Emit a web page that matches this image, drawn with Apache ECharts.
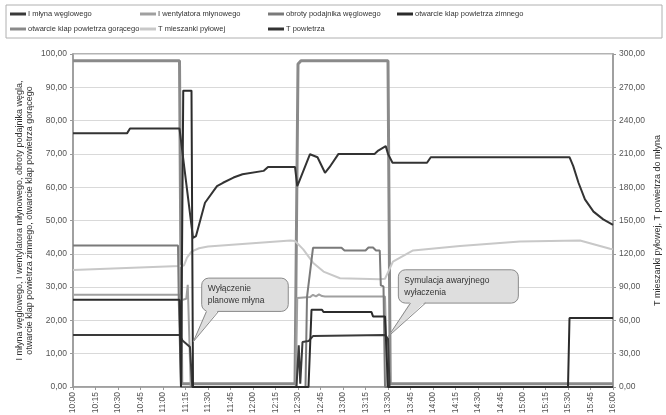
<!DOCTYPE html>
<html><head><meta charset="utf-8">
<script src="https://cdn.jsdelivr.net/npm/echarts@6/dist/echarts.min.js"></script>
<style>html,body{margin:0;padding:0;background:#fff}#c{width:666px;height:415px}</style>
</head><body><div id="c"></div>
<script>
// time in minutes after 10:00
const xTicksStart = 0, xTicksEnd = 360, xStep = 15;

const mlynT = [0, 71, 73, 78, 79.5, 149, 150.5, 151.5, 153, 157, 160, 208, 210, 211, 360];
const mlynV = [15.6, 15.6, 14.0, 12.0, 0, 0, 12.5, 1.0, 13.5, 13.8, 15.3, 15.6, 14.5, 0, 0];

const wentT = [0, 71, 72, 75.5, 76.5, 77.5, 78.5, 148.5, 149.5, 158, 160, 162, 164, 166, 168, 208, 209.5, 360];
const wentV = [27.7, 27.7, 26.0, 26.5, 30.7, 30.5, 0, 0, 26.7, 27.0, 27.7, 27.2, 27.8, 27.3, 27.2, 27.2, 0, 0];

const obrT = [0, 70, 70.5, 72, 155, 156, 160, 179, 181, 195, 197, 200, 202, 204.5, 205.2, 207, 208, 360];
const obrV = [42.5, 42.5, 26.5, 0, 0, 27, 41.8, 41.8, 41.0, 41.0, 41.9, 41.9, 41.0, 41.0, 30.5, 30.2, 0, 0];

const zimT = [0, 71, 72, 73.5, 79, 80, 157, 159, 166, 167, 199, 200, 208, 210, 330, 331, 360];
const zimV = [26.2, 26.2, 0, 89, 89, 0, 0, 23.2, 23.2, 22.5, 22.5, 21.2, 21.2, 0, 0, 20.7, 20.7];

const gorT = [0, 71, 72.5, 148, 150, 152, 210, 211.5, 360];
const gorV = [98, 98, 1, 1, 97, 98, 98, 1, 1];

const tmT = [0, 71, 74, 76, 79, 84, 90, 145, 148, 153.5, 160, 167, 178, 204.7, 208, 213.3, 226.7, 258, 298, 338, 358, 360];
const tmV = [105.5, 109, 109.5, 116.6, 122, 125, 126.5, 132, 131.5, 124, 112, 104, 98, 97, 97.5, 113, 123, 127, 131, 132, 124.5, 124];

const tpT = [0, 36, 38, 71, 80, 82, 88, 96, 100, 107, 113, 114, 127, 130, 148, 149.5, 151, 158, 163, 168, 171, 177, 201, 203.5, 208.5, 210, 213, 236, 238.5, 331, 333.5, 337, 341.3, 347, 353.5, 360];
const tpV = [228.5, 228.5, 232.8, 232.8, 134.4, 136, 166, 181, 184, 188.7, 191.7, 192.5, 194.7, 198.3, 198.3, 181, 186, 209.7, 207, 193, 198, 210, 210, 213, 217, 210, 202, 202, 207, 207, 199, 184, 169, 158, 151, 146];

const names = ['I młyna węglowego', 'I wentylatora młynowego', 'obroty podajnika węglowego',
  'otwarcie klap powietrza zimnego', 'otwarcie klap powietrza gorącego', 'T mieszanki pyłowej', 'T powietrza'];
const leftAxisName = 'I młyna węglowego, I wentylatora młynowego, obroty podajnika węgla,\notwarcie klap powietrza zimnego, otwarcie klap powietrza gorącego';
const rightAxisName = 'T mieszanki pyłowej, T powietrza do młyna';
const callout1 = ['Wyłączenie', 'planowe młyna'];
const callout2 = ['Symulacja awaryjnego', 'wyłaczenia'];

const FONT = 'Liberation Sans, Arial, sans-serif';
const pairs = (t, v) => t.map((x, i) => [x, v[i]]);
const fmt = v => v.toFixed(2).replace('.', ',');
const tfmt = m => { const h = 10 + Math.floor(m / 60), mm = m % 60; return h + ':' + (mm < 10 ? '0' : '') + mm; };

const colors = ['#3a3a3a', '#a0a0a0', '#7a7a7a', '#2b2b2b', '#8a8a8a', '#c8c8c8', '#333333'];
const widths = [2, 2, 2, 2, 3, 2, 2];
const dataSets = [pairs(mlynT, mlynV), pairs(wentT, wentV), pairs(obrT, obrV), pairs(zimT, zimV), pairs(gorT, gorV), pairs(tmT, tmV), pairs(tpT, tpV)];
const yIdx = [0, 0, 0, 0, 0, 1, 1];
const drawOrder = [4, 5, 1, 2, 0, 3, 6];

const series = drawOrder.map(i => ({
  name: names[i], type: 'line', yAxisIndex: yIdx[i], data: dataSets[i],
  showSymbol: false, symbol: 'none', animation: false,
  lineStyle: { color: colors[i], width: widths[i] }, itemStyle: { color: colors[i] }, z: 2
}));

const legendPos = [[10, 10], [140, 10], [268, 10], [397, 10], [10, 25], [140, 25], [268, 25]];
const legends = names.map((n, i) => ({
  data: [n], left: legendPos[i][0], top: legendPos[i][1], icon: 'rect', itemWidth: 16, itemHeight: 3,
  itemGap: 0, padding: 0, textStyle: { fontSize: 7.5, color: '#333', fontFamily: FONT, padding: [0, 0, 0, -3] }
}));

const chart = echarts.init(document.getElementById('c'), null, { renderer: 'canvas' });
chart.setOption({
  animation: false,
  backgroundColor: '#fff',
  legend: legends,
  grid: { left: 73, right: 53, top: 54, bottom: 28, containLabel: false, outerBoundsMode: 'none',
    show: true, borderColor: '#9a9a9a', borderWidth: 1.5 },
  xAxis: {
    type: 'value', min: xTicksStart, max: xTicksEnd, interval: xStep,
    axisLine: { show: true, lineStyle: { color: '#9a9a9a', width: 1.5 } },
    axisTick: { show: true, length: 3, lineStyle: { color: '#9a9a9a' } },
    splitLine: { show: false },
    axisLabel: { rotate: 90, fontSize: 8.5, color: '#555', fontFamily: FONT, margin: 5, formatter: tfmt }
  },
  yAxis: [{
    type: 'value', min: 0, max: 100, interval: 10, position: 'left',
    name: leftAxisName, nameLocation: 'middle', nameGap: 38, nameMoveOverlap: false,
    nameTextStyle: { fontSize: 9, color: '#333', fontFamily: FONT, lineHeight: 10 },
    axisLine: { show: true, lineStyle: { color: '#9a9a9a', width: 1.5 } },
    axisTick: { show: true, length: 3, lineStyle: { color: '#9a9a9a' } },
    splitLine: { show: true, lineStyle: { color: '#d9d9d9', width: 1 } },
    axisLabel: { fontSize: 8.5, color: '#555', fontFamily: FONT, margin: 6, formatter: fmt }
  }, {
    type: 'value', min: 0, max: 300, interval: 30, position: 'right',
    name: rightAxisName, nameLocation: 'middle', nameGap: 40, nameRotate: 90, nameMoveOverlap: false,
    nameTextStyle: { fontSize: 9, color: '#333', fontFamily: FONT },
    axisLine: { show: true, lineStyle: { color: '#9a9a9a', width: 1.5 } },
    axisTick: { show: true, length: 3, lineStyle: { color: '#9a9a9a' } },
    splitLine: { show: false },
    axisLabel: { fontSize: 8.5, color: '#555', fontFamily: FONT, margin: 6, formatter: fmt }
  }],
  series: series
});

function px(t, v) { return chart.convertToPixel({ xAxisIndex: 0, yAxisIndex: 0 }, [t, v]); }
function callout(box, tailBase, tip, lines) {
  const a = px(box[0], box[1]), b = px(box[2], box[3]);
  const x = a[0], y = a[1], w = b[0] - a[0], h = b[1] - a[1];
  const b1 = px(tailBase[0], box[3]), b2 = px(tailBase[1], box[3]), tp = px(tip[0], tip[1]);
  return [
    { type: 'rect', z: 10, shape: { x: x, y: y, width: w, height: h, r: 7 }, style: { fill: '#dedede', stroke: '#8a8a8a', lineWidth: 1 } },
    { type: 'polygon', z: 11, shape: { points: [[b1[0], b1[1] - 1.5], [b2[0], b2[1] - 1.5], tp] }, style: { fill: '#dedede' } },
    { type: 'polyline', z: 12, shape: { points: [[b2[0], b2[1]], tp, [b1[0], b1[1]]] }, style: { fill: null, stroke: '#8a8a8a', lineWidth: 1 } },
    { type: 'text', z: 13, x: x + 6, y: y + 5, style: { text: lines.join('\n'), font: '8.5px ' + FONT, fill: '#333', lineHeight: 12 } }
  ];
}
const g = [].concat(
  callout([85.8, 32.7, 143.5, 22.7], [89, 97], [80.2, 13.6], callout1),
  callout([216.9, 35.2, 296.9, 25.2], [225, 235], [210.2, 15.2], callout2),
  [{ type: 'rect', z: 0, shape: { x: 6, y: 5, width: 656, height: 33 }, style: { fill: null, stroke: '#b0b0b0', lineWidth: 1 } }]
);
chart.setOption({ graphic: g });
</script></body></html>
